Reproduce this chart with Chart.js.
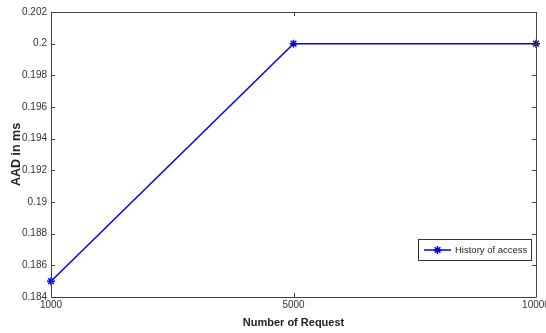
<!DOCTYPE html>
<html>
<head>
<meta charset="utf-8">
<script src="https://cdn.jsdelivr.net/npm/chart.js@4/dist/chart.umd.min.js"></script>
<style>
  html, body { margin: 0; padding: 0; background: #fff; overflow: hidden; }
  #wrap { width: 546px; height: 333px; position: relative; }
</style>
</head>
<body>
<div id="wrap"><canvas id="c" width="546" height="333"></canvas></div>
<script>
// Number of requests vs. average access delay
const requests = ['1000', '5000', '10000'];
const aadValues = [0.185, 0.2, 0.2];
const seriesName = 'History of access';
const yMin = 0.184, yMax = 0.202, yStep = 0.002;

const NARROW = "'Liberation Sans Narrow', 'Arial Narrow', 'Liberation Sans', sans-serif";
const AXIS_COLOR = '#444';

// Box frame, inward tick marks and legend box in the MATLAB style
const framePlugin = {
  id: 'frame',
  afterDraw(chart) {
    const { ctx, chartArea: a, scales } = chart;
    const xs = scales.x, ys = scales.y;
    ctx.save();
    ctx.strokeStyle = AXIS_COLOR;
    ctx.lineWidth = 1;
    ctx.beginPath();
    ctx.rect(Math.round(a.left) + 0.5, Math.round(a.top) + 0.5,
             Math.round(a.right - a.left), Math.round(a.bottom - a.top));
    ctx.stroke();
    const len = 4;
    ctx.beginPath();
    ys.ticks.forEach(t => {
      const y = Math.round(ys.getPixelForValue(t.value)) + 0.5;
      ctx.moveTo(a.left, y); ctx.lineTo(a.left + len, y);
      ctx.moveTo(a.right, y); ctx.lineTo(a.right - len, y);
    });
    xs.ticks.forEach((t, i) => {
      const x = Math.round(xs.getPixelForValue(i)) + 0.5;
      ctx.moveTo(x, a.bottom); ctx.lineTo(x, a.bottom - len);
      ctx.moveTo(x, a.top); ctx.lineTo(x, a.top + len);
    });
    ctx.stroke();

    // legend box at lower right of the plot
    const ds = chart.data.datasets[0];
    const bw = 113, bh = 21;
    const bx = a.right - 5 - bw, by = a.top + 227;
    ctx.fillStyle = '#fff';
    ctx.fillRect(bx, by, bw, bh);
    ctx.strokeStyle = '#333';
    ctx.strokeRect(Math.round(bx) + 0.5, Math.round(by) + 0.5, bw, bh);
    const cy = by + bh / 2 + 0.5;
    ctx.strokeStyle = ds.borderColor;
    ctx.lineWidth = 1.5;
    ctx.beginPath();
    ctx.moveTo(bx + 6, cy); ctx.lineTo(bx + 33, cy);
    ctx.stroke();
    Chart.helpers.drawPoint(ctx, { pointStyle: 'star', radius: 4, borderWidth: 1.5 }, bx + 19.5, cy);
    ctx.fillStyle = '#222';
    ctx.font = '9.5px ' + NARROW;
    ctx.textBaseline = 'middle';
    ctx.fillText(seriesName, bx + 37, cy);
    ctx.restore();
  }
};

new Chart(document.getElementById('c'), {
  type: 'line',
  data: {
    labels: requests,
    datasets: [{
      label: seriesName,
      data: aadValues,
      borderColor: '#0000ff',
      backgroundColor: '#0000ff',
      borderWidth: 1.5,
      pointStyle: 'star',
      pointRadius: 4,
      pointBorderWidth: 1.5,
      tension: 0,
      clip: false
    }]
  },
  options: {
    responsive: false,
    animation: false,
    devicePixelRatio: 1,
    layout: { padding: { left: 0, right: 10, top: 12, bottom: 0 } },
    plugins: { legend: { display: false }, tooltip: { enabled: false } },
    scales: {
      x: {
        type: 'category',
        offset: false,
        grid: { display: false, drawTicks: false },
        border: { display: false },
        ticks: {
          color: '#333', padding: 2, maxRotation: 0, autoSkip: false,
          font: { family: NARROW, size: 10 }
        },
        title: {
          display: true, text: 'Number of Request', color: '#222',
          font: { family: "'Liberation Sans', Arial, sans-serif", size: 11, weight: 'bold' },
          padding: { top: 2, bottom: 3 }
        },
        afterFit(s) { s.paddingLeft = 0; s.paddingRight = 0; s.height = 36; }
      },
      y: {
        min: yMin, max: yMax,
        grid: { display: false, drawTicks: false },
        border: { display: false },
        ticks: {
          stepSize: yStep, color: '#333', padding: 4,
          font: { family: NARROW, size: 10 },
          callback: v => +v.toFixed(3) + ''
        },
        title: {
          display: true, text: 'AAD in ms', color: '#222',
          font: { family: "'Liberation Sans', Arial, sans-serif", size: 12.5, weight: 'bold' },
          padding: { top: 9, bottom: 0 }
        },
        afterFit(s) { s.paddingTop = 0; s.paddingBottom = 0; s.width = 51; }
      }
    }
  },
  plugins: [framePlugin]
});
</script>
</body>
</html>
